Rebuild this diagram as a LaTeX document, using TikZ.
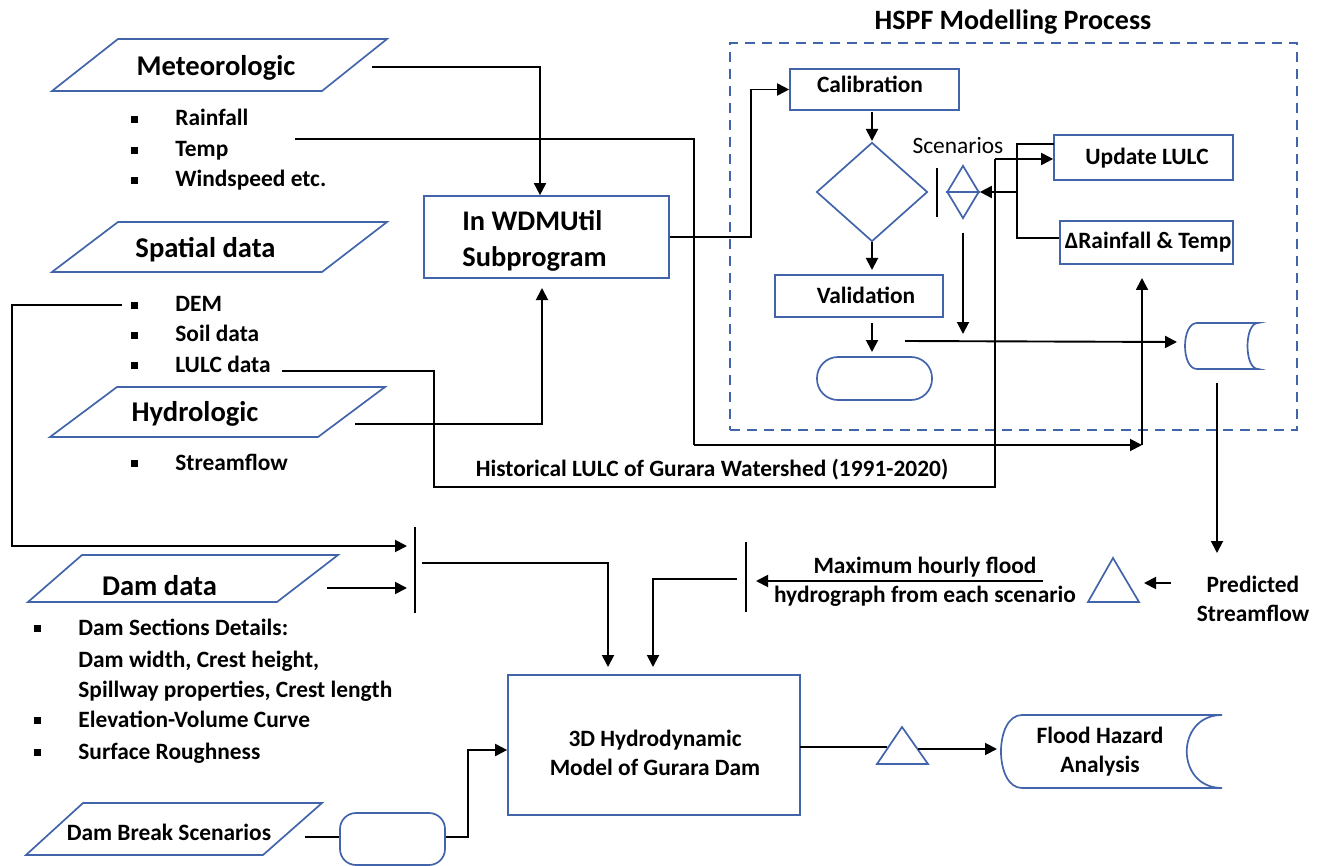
\documentclass[tikz,border=0pt]{standalone}
\usepackage{fontspec}
\setmainfont{Carlito}
\usetikzlibrary{arrows.meta,shapes.geometric}
\definecolor{shapeblue}{RGB}{65,100,170}
\newcommand\fsb[1]{\fontsize{#1}{#1}\selectfont\bfseries}
\newcommand\bul{\makebox[22pt][l]{\rule[1.6pt]{3.5pt}{3.5pt}}}
\begin{document}
\begin{tikzpicture}[x=0.5pt,y=-0.5pt,
  shp/.style={draw=shapeblue,line width=0.85pt},
  box/.style={shp,rectangle,inner sep=0pt},
  arr/.style={line width=0.95pt,-{Triangle[length=6pt,width=6pt]}},
  ln/.style={line width=0.95pt},
  sbar/.style={line width=1.1pt},
  big/.style={inner sep=0pt,anchor=base,font=\fsb{14.3}},
  sml/.style={inner sep=0pt,anchor=base,font=\fsb{11.7}},
  itm/.style={inner sep=0pt,anchor=base west,font=\fsb{11.7}},
  two/.style={inner sep=0pt,align=center,font=\fsb{11.7},execute at begin node=\setlength{\baselineskip}{14.5pt}},
]
\path[use as bounding box] (0,0) rectangle (1322,866);

% ---------- HSPF process ----------
\node[inner sep=0pt,anchor=base,font=\fsb{14}] (title) at (1013,30) {HSPF Modelling Process};
\node[shp,dash pattern=on 5pt off 3.5pt,minimum width=283.5pt,minimum height=193.5pt,inner sep=0pt] (hspf) at (1013.5,236.5) {};

\node[box,minimum width=84.5pt,minimum height=20.5pt] (cal) at (874.5,89.5) {};
\node[sml] (caltxt) at (870,93) {Calibration};
\node[shp,diamond,minimum width=55.5pt,minimum height=49.5pt,inner sep=0pt] (dia) at (872,192) {};
\node[box,minimum width=84pt,minimum height=21pt] (val) at (859,296) {};
\node[sml] (valtxt) at (866,303) {Validation};
\node[shp,rectangle,rounded corners=10.5pt,minimum width=57.5pt,minimum height=21.5pt,inner sep=0pt] (term) at (874.5,378.5) {};

\node[inner sep=0pt,anchor=base,font=\fontsize{11.7}{11.7}\selectfont] (scen) at (958,154) {Scenarios};
\coordinate (barT) at (937,168);
\coordinate (barB) at (937,217);
\draw[sbar] (barT) -- (barB);
\node[shp,diamond,minimum width=16pt,minimum height=26.5pt,inner sep=0pt] (sd) at (963,192) {};
\draw[shp] (sd.west) -- (sd.east);

\node[box,minimum width=89.5pt,minimum height=22.5pt] (upd) at (1143.5,157.5) {};
\node[sml] (updtxt) at (1147,165) {Update LULC};
\node[box,minimum width=86.5pt,minimum height=21.5pt] (drt) at (1146.5,242.5) {};
\node[sml] (drttxt) at (1148,249) {ΔRainfall \& Temp};

\draw[shp] (1197,323) -- (1258,323) .. controls (1244,323) and (1244,369) .. (1258,369) -- (1197,369) .. controls (1181,369) and (1181,323) .. (1197,323);
\coordinate (cyl) at (1220,346);

\draw[arr] (872,112) -- (872,141);
\draw[arr] (dia.south) -- (872,270);
\draw[arr] (872,323) -- (872,352);
\draw[arr] (963,233) -- (963,334);
\draw[arr] (905,341) -- (1177,342);
\draw[ln] (1054,144) -- (1017,144) -- (1017,238) -- (drt.west |- 0,238);
\draw[arr] (1017,192) -- (sd.east);
\draw[arr] (1217,383) -- (1217,553);

% ---------- inputs (left) ----------
\draw[shp] (52,91) -- (118,39) -- (387,39) -- (322,91) -- cycle;
\node[big] (met) at (216,76) {Meteorologic};
\node[itm] (rain) at (131,126) {\bul Rainfall};
\node[itm] (temp) at (131,157) {\bul Temp};
\node[itm] (wind) at (131,187) {\bul Windspeed etc.};

\draw[shp] (52,272) -- (118,222) -- (387,222) -- (322,272) -- cycle;
\node[big] (spa) at (205.5,257) {Spatial data};
\node[itm] (dem) at (131,312) {\bul DEM};
\node[itm] (soil) at (131,342) {\bul Soil data};
\node[itm] (lulc) at (131,372) {\bul LULC data};

\draw[shp] (50,437) -- (117,387) -- (385,387) -- (318,437) -- cycle;
\node[big] (hyd) at (195,421) {Hydrologic};
\node[itm] (strm) at (131,470) {\bul Streamflow};

\draw[shp] (28,602) -- (82,555) -- (338,555) -- (277,602) -- cycle;
\node[big] (dam) at (159.5,595) {Dam data};
\node[itm] (d1) at (34,635) {\bul Dam Sections Details:};
\node[itm] (d2) at (78,667) {Dam width, Crest height,};
\node[itm] (d3) at (78,697) {Spillway properties, Crest length};
\node[itm] (d4) at (34,727) {\bul Elevation-Volume Curve};
\node[itm] (d5) at (34,759) {\bul Surface Roughness};

\draw[shp] (26,855) -- (83,803) -- (322,803) -- (263,855) -- cycle;
\node[sml] (brk) at (169,840) {Dam Break Scenarios};

% ---------- WDMUtil ----------
\node[box,minimum width=122.5pt,minimum height=41pt] (wdm) at (546.5,237) {};
\node[inner sep=0pt,anchor=base west,font=\fsb{14.2}] (wdm1) at (462,231) {In WDMUtil};
\node[inner sep=0pt,anchor=base west,font=\fsb{14.2}] (wdm2) at (462,267) {Subprogram};

\coordinate (metout) at (372,67);
\coordinate (mx) at (540,67);
\draw[arr] (metout) -- (mx) -- (mx |- wdm.north);
\coordinate (hydout) at (355,424);
\draw[arr] (hydout) -- (542,424) -- (542,288);
\draw[arr] (wdm.east) -- (751,237) -- (751,89.5) -- (cal.west);

\coordinate (rainout) at (295,139);
\draw[ln] (rainout) -- (694,139) -- (694,445);
\draw[arr] (694,445) -- (1142,445);
\draw[arr] (1142,445) -- (1142,278);

\coordinate (lulcout) at (282,371);
\draw[ln] (lulcout) -- (434,371) -- (434,487) -- (995,487) -- (995,159);
\draw[arr] (995,159) -- (upd.west |- 0,159);
\node[sml] (hist) at (712,476) {Historical LULC of Gurara Watershed (1991-2020)};

% ---------- lower part ----------
\draw[sbar] (415,527) -- (415,613);
\coordinate (lbar) at (415,563);
\draw[arr] (122,305) -- (12,305) -- (12,546) -- (407,546);
\draw[arr] (327,588) -- (407,588);
\draw[arr] (422,563) -- (608,563) -- (608,667);

\draw[sbar] (746,542) -- (746,612);
\coordinate (rbar) at (746,579);
\draw[arr] (737,579) -- (653,579) -- (653,667);
\draw[arr] (1043,581) -- (756,581);
\node[two] (maxh) at (925,582) {Maximum hourly flood\\hydrograph from each scenario};

\draw[shp] (1088,602) -- (1113,558) -- (1139,602) -- cycle;
\coordinate (tri1) at (1113,587);
\draw[arr] (1171,583) -- (1144,583);
\node[two] (pred) at (1253,599) {Predicted\\Streamflow};

\node[box,minimum width=146pt,minimum height=70pt] (h3d) at (654,745) {};
\node[two] (h3dtxt) at (655,753) {3D Hydrodynamic\\Model of Gurara Dam};

\draw[ln] (800,747) -- (887,747);
\draw[shp] (877,764) -- (902,727) -- (928,764) -- cycle;
\coordinate (tri2) at (902,750);
\draw[arr] (918,749) -- (997,749);
\draw[shp] (1022,715) -- (1222,715) .. controls (1175,715) and (1175,788) .. (1222,788) -- (1022,788) .. controls (994,788) and (994,715) .. (1022,715);
\node[two] (flood) at (1100,752) {Flood Hazard\\Analysis};

\node[shp,rectangle,rounded corners=8pt,minimum width=52.5pt,minimum height=26pt,inner sep=0pt] (rr) at (392.5,839) {};
\draw[ln] (305,837) -- (rr.west |- 0,837);
\draw[arr] (rr.east |- 0,837) -- (468,837) -- (468,750) -- (h3d.west |- 0,750);
\end{tikzpicture}
\end{document}
